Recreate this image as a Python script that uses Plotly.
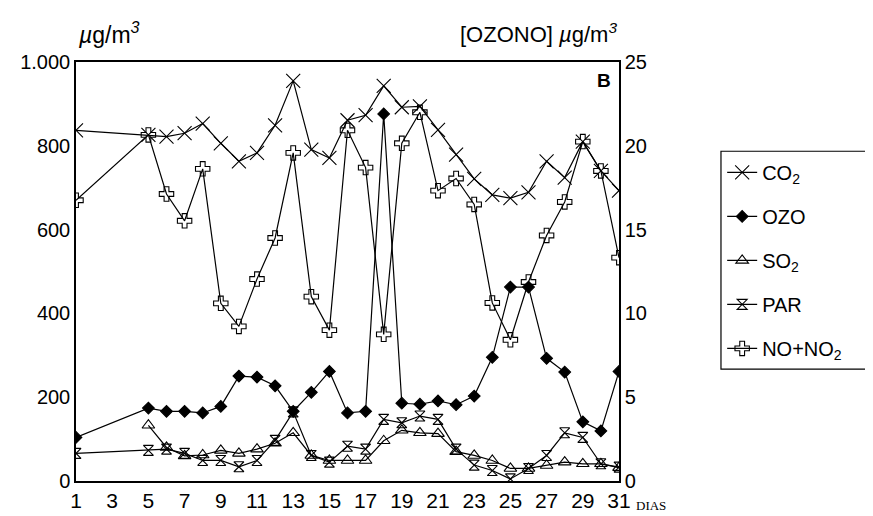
import plotly.graph_objects as go

days = [1, 5, 6, 7, 8, 9, 10, 11, 12, 13, 14, 15, 16, 17, 18, 19, 20, 21, 22, 23, 24, 25, 26, 27, 28, 29, 30, 31]
co2 = [837, 826, 822, 830, 853, 806, 763, 783, 849, 955, 791, 771, 861, 873, 943, 892, 894, 838, 779, 721, 683, 675, 689, 763, 724, 810, 740, 693]
ozo = [2.6, 4.35, 4.16, 4.16, 4.06, 4.45, 6.26, 6.2, 5.68, 4.16, 5.29, 6.54, 4.06, 4.16, 21.9, 4.64, 4.58, 4.78, 4.55, 5.07, 7.38, 11.57, 11.57, 7.32, 6.5, 3.53, 2.99, 6.54]
so2 = [None, 133, 80, 60, 62, 73, 66, 76, 90, 115, 61, 49, 49, 49, 96, 121, 115, 113, 70, 61, 49, 30, 30, 37, 45, 41, 41, 32]
par = [66, 73, 76, 66, 49, 49, 34, 49, 97, 165, 61, 45, 83, 76, 147, 139, 155, 147, 76, 38, 25, 5, 30, 61, 115, 104, 41, 33]
nox = [670, 826, 685, 621, 745, 424, 369, 482, 580, 783, 440, 360, 837, 748, 350, 806, 880, 693, 722, 660, 425, 337, 475, 586, 666, 810, 740, 533]

x_ticks = list(range(1, 32, 2))
left_ticks = [0, 200, 400, 600, 800, 1000]
left_labels = ["0", "200", "400", "600", "800", "1.000"]
right_ticks = [0, 5, 10, 15, 20, 25]

FONT = "Liberation Sans, Arial, sans-serif"
LW = 1.2

fig = go.Figure()

def add(name, y, symbol, size, yaxis="y"):
    fig.add_trace(go.Scatter(
        x=days, y=y, name=name, mode="lines+markers", yaxis=yaxis,
        connectgaps=True, legendgroup=name,
        line=dict(color="black", width=LW),
        marker=dict(symbol=symbol, size=size, color="black",
                    line=dict(color="black", width=1.1)),
    ))

add("CO<sub>2</sub>", co2, "x-thin", 14)
add("OZO", ozo, "diamond", 9, yaxis="y2")
add("SO<sub>2</sub>", so2, "triangle-up-open", 11)
add("PAR", par, "hourglass-open", 10)
add("NO+NO<sub>2</sub>", nox, "cross-open", 12)

fig.update_layout(
    width=873, height=516,
    margin=dict(l=68, r=262, t=54, b=35),
    paper_bgcolor="white", plot_bgcolor="white",
    font=dict(family=FONT, size=20, color="black"),
    showlegend=True,
    legend=dict(
        x=1.19, xanchor="left", y=0.783, yanchor="top",
        borderwidth=0, bgcolor="rgba(0,0,0,0)",
        font=dict(size=20), tracegroupgap=15, traceorder="grouped",
        itemwidth=30,
    ),
    xaxis=dict(
        range=[1, 31], tickvals=x_ticks, ticktext=[str(t) for t in x_ticks],
        showgrid=False, zeroline=False, showline=True, linecolor="black",
        linewidth=1.5, mirror=True, ticks="", tickfont=dict(size=21),
    ),
    yaxis=dict(
        range=[0, 1000], tickvals=left_ticks, ticktext=left_labels,
        showgrid=False, zeroline=False, showline=True, linecolor="black",
        linewidth=1.5, mirror=True, ticks="", tickfont=dict(size=20),
    ),
    yaxis2=dict(
        range=[0, 25], tickvals=right_ticks, overlaying="y", side="right",
        showgrid=False, zeroline=False, showline=True, linecolor="black",
        linewidth=1.5, ticks="", tickfont=dict(size=20),
    ),
    shapes=[
        dict(type="rect", xref="paper", yref="paper",
             x0=1.1878, x1=1.4678, y0=0.267, y1=0.787,
             line=dict(color="black", width=1.2), fillcolor="rgba(0,0,0,0)"),
    ],
    annotations=[
        dict(text="<i>µ</i>g/m<sup><i>3</i></sup>", xref="paper", yref="paper",
             x=0.0, y=1.07, xanchor="left", yanchor="middle", showarrow=False,
             font=dict(size=23)),
        dict(text="[OZONO] <i>µ</i>g/m<sup><i>3</i></sup>", xref="paper", yref="paper",
             x=1.0, y=1.07, xanchor="right", yanchor="middle", showarrow=False,
             font=dict(size=22)),
        dict(text="DIAS", xref="paper", yref="paper", x=1.028, y=-0.058,
             xanchor="left", yanchor="middle", showarrow=False,
             font=dict(family="Liberation Serif, serif", size=13)),
        dict(text="<b>B</b>", xref="paper", yref="paper", x=0.972, y=0.955,
             xanchor="center", yanchor="middle", showarrow=False,
             font=dict(family="Liberation Sans Narrow, Arial Narrow, sans-serif", size=19)),
    ],
)

fig.write_html("out.html")
